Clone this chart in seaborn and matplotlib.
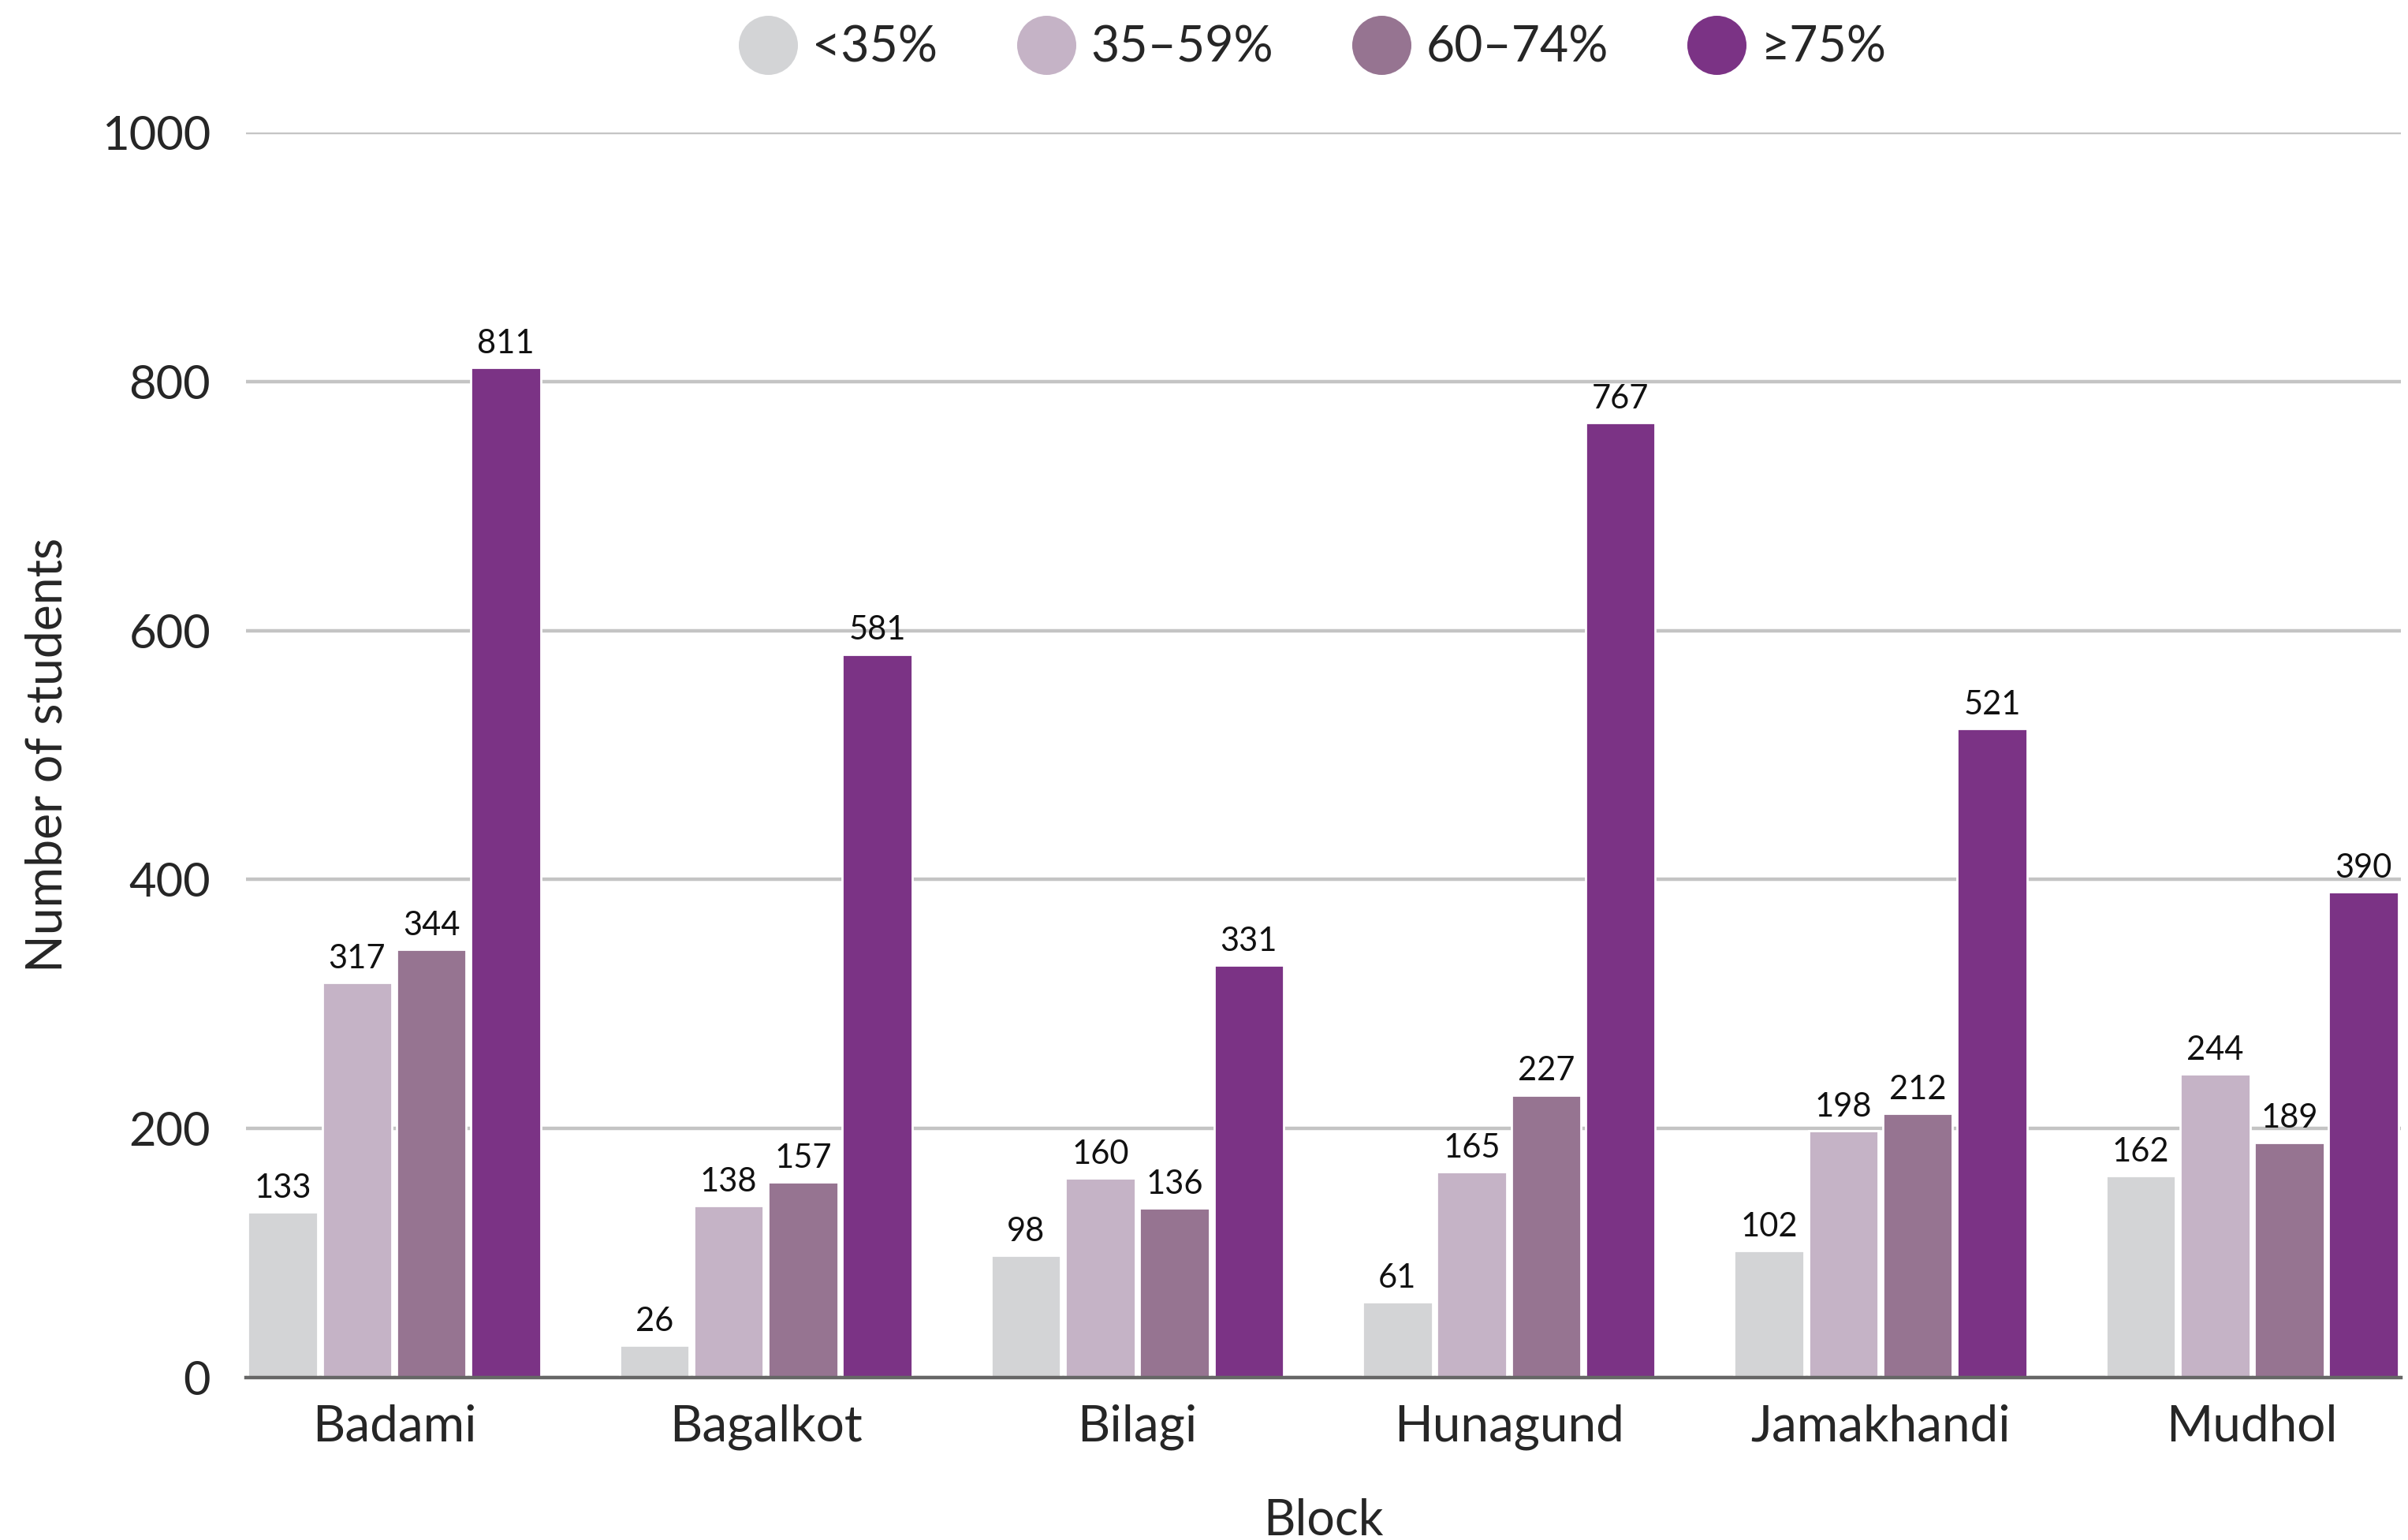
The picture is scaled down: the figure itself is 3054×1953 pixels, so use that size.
import pandas as pd
import seaborn as sns
import matplotlib.pyplot as plt
from matplotlib.lines import Line2D

blocks = ["Badami", "Bagalkot", "Bilagi", "Hunagund", "Jamakhandi", "Mudhol"]
bands = ["<35%", "35–59%", "60–74%", "≥75%"]
below_35 = [133, 26, 98, 61, 102, 162]
from_35_to_59 = [317, 138, 160, 165, 198, 244]
from_60_to_74 = [344, 157, 136, 227, 212, 189]
above_75 = [811, 581, 331, 767, 521, 390]
colors = ["#d3d4d6", "#c5b3c6", "#967491", "#7b3385"]

rows = []
for band, values in zip(bands, [below_35, from_35_to_59, from_60_to_74, above_75]):
    for block, v in zip(blocks, values):
        rows.append({"Block": block, "Band": band, "Students": v})
df = pd.DataFrame(rows)

sns.set_theme(style="white")
plt.rcParams['font.family'] = ['Lato', 'DejaVu Sans']

fig = plt.figure(figsize=(15.27, 9.765), dpi=200)
ax = fig.add_axes([0.102, 0.1055, 0.895, 0.8085])

sns.barplot(data=df, x="Block", y="Students", hue="Band", order=blocks, hue_order=bands,
            palette=colors, width=0.8, gap=0.06, saturation=1, ax=ax, legend=False)

for container in ax.containers:
    ax.bar_label(container, padding=4, fontsize=15, color="#111111")

ax.set_xlim(-0.4, 5.4)
ax.set_ylim(0, 1000)
ax.set_yticks([0, 200, 400, 600, 800, 1000])
ax.yaxis.grid(True, color="#c4c4c4", linewidth=1.6)
ax.set_axisbelow(True)
sns.despine(ax=ax, left=True)
ax.spines["bottom"].set_color("#666666")
ax.spines["bottom"].set_linewidth(1.6)
ax.tick_params(axis="y", length=0, labelsize=21.5, pad=16)
ax.tick_params(axis="x", length=0, labelsize=23, pad=12)
ax.set_xlabel("Block", fontsize=22.5, labelpad=22)
ax.set_ylabel("Number of students", fontsize=22.5, labelpad=14)

handles = [Line2D([0], [0], marker="o", linestyle="", markersize=26,
                  markerfacecolor=c, markeredgecolor=c) for c in colors]
fig.legend(handles, bands, loc="center", bbox_to_anchor=(0.545, 0.969), ncol=4,
           frameon=False, fontsize=22.5, handlelength=1.2, handletextpad=0.3,
           columnspacing=1.6)

fig.savefig("out.png", dpi=200)
